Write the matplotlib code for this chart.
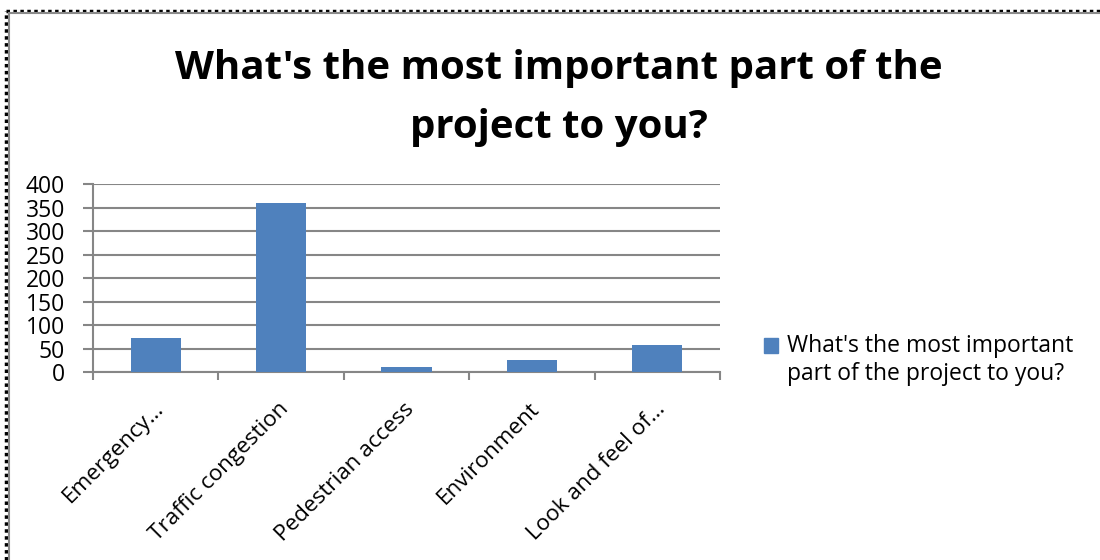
import matplotlib.pyplot as plt
import matplotlib.transforms as mtransforms
from matplotlib.lines import Line2D
from matplotlib.patches import Patch, Rectangle
from matplotlib.legend_handler import HandlerPatch

categories = ["Emergency…", "Traffic congestion", "Pedestrian access", "Environment", "Look and feel of…"]
counts = [72, 360, 10, 25, 57]
series_name = "What's the most important\npart of the project to you?"
title = "What's the most important part of the\nproject to you?"
yticks = [0, 50, 100, 150, 200, 250, 300, 350, 400]

bar_color = "#4F81BD"
grid_color = "#868686"

plt.rcParams['font.family'] = ['Open Sans', 'DejaVu Sans']

fig = plt.figure(figsize=(11, 5.6), dpi=100)
ax = fig.add_axes([0.0845, 0.3357, 0.570, 0.3357])

x = list(range(len(categories)))
ax.bar(x, counts, width=0.4, color=bar_color, zorder=3)

ax.set_xlim(-0.5, len(categories) - 0.5)
ax.set_ylim(0, 400)
ax.set_yticks(yticks)
ax.set_yticklabels([str(v) for v in yticks], fontsize=16.5)
ax.yaxis.grid(True, color=grid_color, linewidth=1.5, zorder=0)

# category ticks sit on the boundaries between bars
ax.set_xticks([i - 0.5 for i in range(len(categories) + 1)])
ax.set_xticklabels([])
ax.set_xticks(x, minor=True)
ax.set_xticklabels(categories, minor=True, rotation=45, ha="right",
                   rotation_mode="anchor", fontsize=16.2)
ax.tick_params(axis="x", which="minor", length=0, pad=19)
ax.tick_params(axis="x", which="major", length=6, width=1.5, color=grid_color)
ax.tick_params(axis="y", length=7, width=1.5, color=grid_color, pad=13)

# nudge the slanted labels so they end just right of the bar centre
shift = mtransforms.ScaledTranslation(-2 / 72, 0, fig.dpi_scale_trans)
for lbl in ax.get_xticklabels(minor=True):
    lbl.set_transform(lbl.get_transform() + shift)

for side in ["top", "right"]:
    ax.spines[side].set_visible(False)
ax.spines["left"].set_color(grid_color)
ax.spines["left"].set_linewidth(1.5)
ax.spines["bottom"].set_color(grid_color)
ax.spines["bottom"].set_linewidth(1.5)

fig.text(0.508, 0.825, title, ha="center", va="center", fontsize=29,
         fontweight="bold", linespacing=1.68)


def top_square(legend, orig_handle, xdescent, ydescent, width, height, fontsize):
    # key square lines up with the first line of the label
    return Rectangle((-xdescent, -ydescent + 11), width, height)


fig.legend(handles=[Patch(color=bar_color, label=series_name)],
           loc="upper left", bbox_to_anchor=(0.6865, 0.42), frameon=False,
           fontsize=16.5, handlelength=0.6, handleheight=0.6,
           handletextpad=0.4, borderaxespad=0,
           handler_map={Patch: HandlerPatch(patch_func=top_square)})

# page border: dotted outer edge with a gray rule inside
fig.add_artist(Line2D([0.005, 0.005], [0, 0.98], color="black",
                      linestyle=(0, (1, 1)), linewidth=2.5))
fig.add_artist(Line2D([0.005, 1], [0.98, 0.98], color="black",
                      linestyle=(0, (1, 1)), linewidth=2.5))
fig.add_artist(Line2D([0.0085, 0.0085], [0, 0.976], color="#8a8a8a", linewidth=1.5))
fig.add_artist(Line2D([0.0085, 1], [0.976, 0.976], color="#8a8a8a", linewidth=1.5))

fig.savefig("out.png", dpi=100)
